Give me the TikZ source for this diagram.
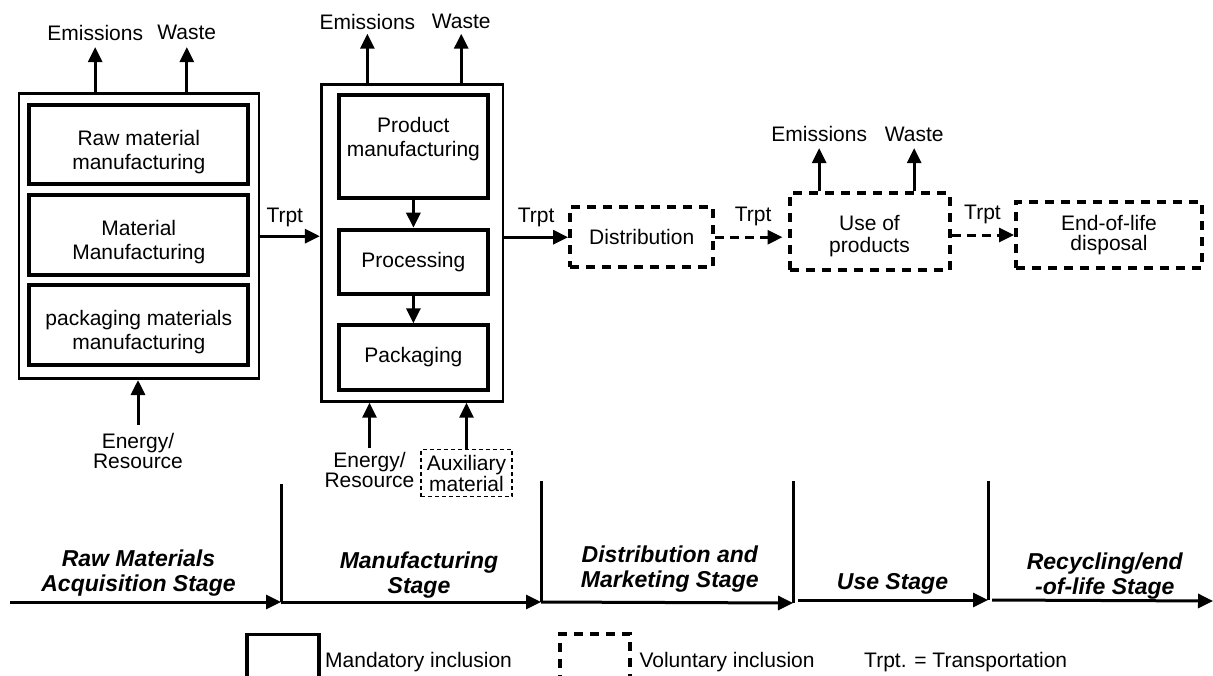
\documentclass[tikz,border=0pt]{standalone}
\usepackage{fontspec}
\setmainfont{Liberation Sans}
\usetikzlibrary{arrows.meta}

\begin{document}
\begin{tikzpicture}[x=1pt,y=-1pt,
  every node/.style={inner sep=0pt, align=center, font=\fontsize{21}{24}\selectfont},
  outerbox/.style={draw, line width=2.7pt},
  procbox/.style={draw, line width=4pt},
  volbox/.style={draw, line width=4pt, dash pattern=on 9pt off 7pt},
  auxbox/.style={draw, line width=1.3pt, dash pattern=on 4pt off 3pt},
  arr/.style={line width=3pt, -{Triangle[length=15pt,width=14pt]}},
  dasharr/.style={arr, dash pattern=on 9pt off 6pt},
  stage/.style={font=\fontsize{23}{25}\selectfont\bfseries\itshape},
  tline/.style={line width=3pt}]
\useasboundingbox (0,0) rectangle (1213,675);

% raw materials acquisition
\node[outerbox, minimum width=240pt, minimum height=285pt] (acq) at (138.9,236.2) {};
\node[procbox, minimum width=218.7pt, minimum height=79.3pt] (raw) at (138.8,144.3) {\rule{0pt}{30pt}Raw material\\manufacturing};
\node[procbox, minimum width=218.7pt, minimum height=80pt] (mat) at (138.8,234.7) {\rule{0pt}{30pt}Material\\Manufacturing};
\node[procbox, minimum width=218.7pt, minimum height=79.3pt] (pkm) at (138.8,325) {\rule{0pt}{30pt}packaging materials\\manufacturing};
\node[anchor=base, inner ysep=6pt] (emA) at (95.2,40.7) {Emissions};
\node[anchor=base, inner ysep=7.4pt] (waA) at (186.8,39.3) {Waste};
\node[anchor=north, inner ysep=8pt, font=\fontsize{21}{20.5}\selectfont] (enA) at (138,425) {Energy/\\Resource};

% manufacturing
\node[outerbox, minimum width=181.8pt, minimum height=316.6pt] (mfg) at (412.1,243) {};
\node[procbox, minimum width=149.3pt, minimum height=102.7pt] (prod) at (413.4,146.7) {Product\\manufacturing\rule[-19pt]{0pt}{19pt}};
\node[procbox, minimum width=149.3pt, minimum height=64pt] (proc) at (413.4,261.7) {Processing};
\node[procbox, minimum width=149.3pt, minimum height=64.4pt] (pack) at (413.4,357.5) {Packaging};
\node[anchor=base, inner ysep=4pt] (emB) at (367.4,29.3) {Emissions};
\node[anchor=base, inner ysep=5pt] (waB) at (461.2,28.3) {Waste};
\node[anchor=north, inner ysep=3.7pt, font=\fontsize{21}{20.5}\selectfont] (enB) at (369.5,448) {Energy/\\Resource};
\node[auxbox, minimum width=91.2pt, minimum height=47.4pt, font=\fontsize{21}{21}\selectfont] (aux) at (466.5,473) {Auxiliary\\material};

% distribution, use, end of life
\node[volbox, minimum width=143.3pt, minimum height=59.5pt] (dist) at (641.7,237.2) {Distribution};
\node[volbox, minimum width=160pt, minimum height=76.4pt, font=\fontsize{21}{22}\selectfont] (use) at (869.5,231.5) {\rule{0pt}{25pt}Use of\\products};
\node[volbox, minimum width=186pt, minimum height=66pt, font=\fontsize{21}{20}\selectfont] (eol) at (1109,235) {End-of-life\\disposal};
\node[anchor=base, inner ysep=6pt] (emC) at (819.2,141.7) {Emissions};
\node[anchor=base, inner ysep=6pt] (waC) at (914.2,141.7) {Waste};

\node[anchor=base] (trA) at (284.8,222.7) {Trpt};
\node[anchor=base] (trB) at (536.2,222.7) {Trpt};
\node[anchor=base] (trC) at (753.1,221.7) {Trpt};
\node[anchor=base] (trD) at (982.5,219) {Trpt};

\draw[arr] (acq.north -| emA) -- (emA.south);
\draw[arr] (acq.north -| waA) -- (waA.south);
\draw[arr] (enA.north) -- (enA.north |- acq.south);
\draw[arr] (acq.east) -- (acq.east -| mfg.west);
\draw[arr] (mfg.north -| emB) -- (emB.south);
\draw[arr] (mfg.north -| waB) -- (waB.south);
\draw[arr] (prod.south) -- (proc.north);
\draw[arr] (proc.south) -- (pack.north);
\draw[arr] (enB.north) -- (enB.north |- mfg.south);
\draw[arr] (aux.north) -- (aux.north |- mfg.south);
\draw[arr] (mfg.east |- dist.west) -- (dist.west);
\draw[dasharr, shorten >=5pt] (dist.east) -- (dist.east -| use.west);
\draw[arr] (use.north -| emC) -- (emC.south);
\draw[arr] (use.north -| waC) -- (waC.south);
\draw[dasharr] (use.east |- eol.west) -- (eol.west);

% stages
\coordinate (m0) at (10,602);
\coordinate (m1) at (281,602);
\coordinate (m2) at (541,602);
\coordinate (m3) at (793,603);
\coordinate (m4) at (988,600);
\coordinate (m5) at (1213,601);
\draw[arr] (m0) -- (m1);
\draw[arr] (m1) -- (m2);
\draw[arr] (m2) -- (m3);
\draw[arr] ([xshift=5pt]m3 |- m4) -- (m4);
\draw[arr] ([xshift=4pt]m4) -- (m5);
\draw[tline] (m1) -- ++(0,-118);
\draw[tline] (m2) -- ++(0,-121);
\draw[tline] (m3) -- ++(0,-122);
\draw[tline] (m4) -- ++(0,-119);

\node[stage] (st1) at (138.5,573.2) {Raw Materials\\Acquisition Stage};
\node[stage] (st2) at (419,574.9) {Manufacturing\\Stage};
\node[stage] (st3) at (669.8,568.7) {Distribution and\\Marketing Stage};
\node[stage] (st4) at (892.5,584.2) {Use Stage};
\node[stage] (st5) at (1104.8,576) {Recycling/end\\-of-life Stage};

% legend
\node[draw, line width=3.5pt, minimum width=72pt, minimum height=90pt] (mand) at (283,679.3) {};
\node[anchor=base west] (mandtxt) at (325,667) {Mandatory inclusion};
\node[volbox, minimum width=70.5pt, minimum height=90pt] (vol) at (594.8,679.3) {};
\node[anchor=base west] (voltxt) at (639.3,667) {Voluntary inclusion};
\node[anchor=base west] (trptkey) at (864,667) {Trpt. = Transportation};
\end{tikzpicture}
\end{document}
